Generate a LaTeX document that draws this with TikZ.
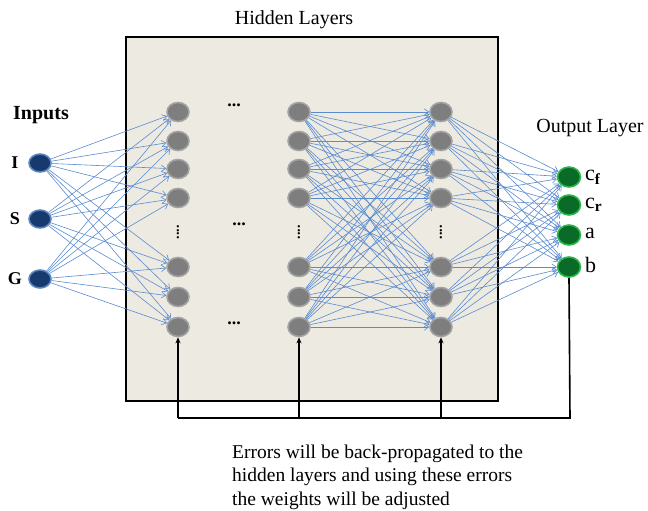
\documentclass[tikz,border=0pt]{standalone}
\usepackage{fontspec}
\setmainfont{Liberation Serif}
\usetikzlibrary{shapes.geometric,arrows.meta}
\definecolor{panel}{HTML}{EDEAE2}
\definecolor{hidfill}{HTML}{7E7E7E}
\definecolor{hidrim}{HTML}{A3A3A3}
\definecolor{infill}{HTML}{173A6E}
\definecolor{inrim}{HTML}{5E86C0}
\definecolor{outfill}{HTML}{0A6A28}
\definecolor{outrim}{HTML}{2DB84C}
\definecolor{linkblue}{HTML}{5A8BD0}
\tikzset{
  neuron/.style={ellipse, minimum width=22pt, minimum height=19pt, inner sep=0pt, line width=1.6pt},
  hid/.style={neuron, fill=hidfill, draw=hidrim},
  inp/.style={neuron, fill=infill, draw=inrim, minimum width=22pt, minimum height=18pt},
  outn/.style={neuron, fill=outfill, draw=outrim, minimum width=23pt, minimum height=20pt},
  link/.style={draw=linkblue, line width=0.6pt, -{Straight Barb[length=4.5pt,width=6.5pt]}},
  fb/.style={line width=1.6pt, black},
  fbarrow/.style={fb, -{Stealth[length=6pt,width=5pt]}},
  title/.style={font=\fontsize{20}{22}\selectfont},
  side/.style={font=\fontsize{18}{20}\selectfont\bfseries},
  outlabel/.style={font=\fontsize{22}{24}\selectfont, anchor=west, inner sep=0pt},
  hdots/.style={font=\fontsize{18}{20}\selectfont\bfseries},
  vdotsn/.style={font=\fontsize{14}{16}\selectfont\bfseries, rotate=90}
}
\begin{document}
\begin{tikzpicture}[x=1pt,y=-1pt]
\useasboundingbox (0,0) rectangle (648,511);

% panel holding the hidden layers
\draw[fill=panel, line width=1.2pt] (126,37) rectangle (498,401);
\node[title] (htitle) at (294,20) {Hidden Layers};

% hidden layer neurons
\foreach \c/\x in {1/178,2/299,3/441}{
  \foreach \r/\y in {1/112,2/141,3/169,4/198,5/267,6/297,7/327}{
    \node[hid] (h\c-\r) at (\x,\y) {};
  }
  \node[vdotsn] (vd\c) at (\x,232) {....};
}
\node[hdots] (dtop) at (234,105) {...};
\node[hdots] (dmid) at (239,224) {...};
\node[hdots] (dbot) at (234,323) {...};

% inputs
\node[title, font=\fontsize{20}{22}\selectfont\bfseries] (intitle) at (41,115) {Inputs};
\foreach \n/\y in {I/163,S/219,G/279}{
  \node[inp] (in\n) at (40,\y) {};
  \node[side] (lab\n) at (15,\y) {\n};
}

% outputs
\node[title] (outtitle) at (590,128) {Output Layer};
\node[outn] (ocf) at (569,177) {};
\node[outn] (ocr) at (569,205) {};
\node[outn] (oa)  at (569,235) {};
\node[outn] (ob)  at (569,267) {};
\node[outlabel] (lcf) at (585,177) {c\textsubscript{\bfseries f}};
\node[outlabel] (lcr) at (585,205) {c\textsubscript{\bfseries r}};
\node[outlabel] (la)  at (585,233) {a};
\node[outlabel] (lb)  at (585,265) {b};

% weighted connections
\foreach \n in {I,S,G}{
  \foreach \r in {1,...,7}{
    \draw[link] (in\n) -- (h1-\r);
  }
}
\foreach \r in {1,...,7}{
  \foreach \s in {1,...,7}{
    \draw[link] (h2-\r) -- (h3-\s);
  }
  \foreach \o in {ocf,ocr,oa,ob}{
    \draw[link] (h3-\r) -- (\o);
  }
}

% error feedback path
\coordinate (fbr) at (570,418);
\coordinate (fb1) at (h1-7 |- fbr);
\coordinate (fb2) at (h2-7 |- fbr);
\coordinate (fb3) at (h3-7 |- fbr);
\draw[fb] (ob.south) -- (fbr) -- (fb1);
\draw[fbarrow] (fb1) -- (h1-7);
\draw[fbarrow] (fb2) -- (h2-7);
\draw[fbarrow] (fb3) -- (h3-7);

\node[anchor=west, align=left, inner sep=0pt, font=\fontsize{19.5}{23.5}\selectfont] (note) at (232,477)
  {Errors will be back-propagated to the\\hidden layers and using these errors\\the weights will be adjusted};
\end{tikzpicture}
\end{document}
